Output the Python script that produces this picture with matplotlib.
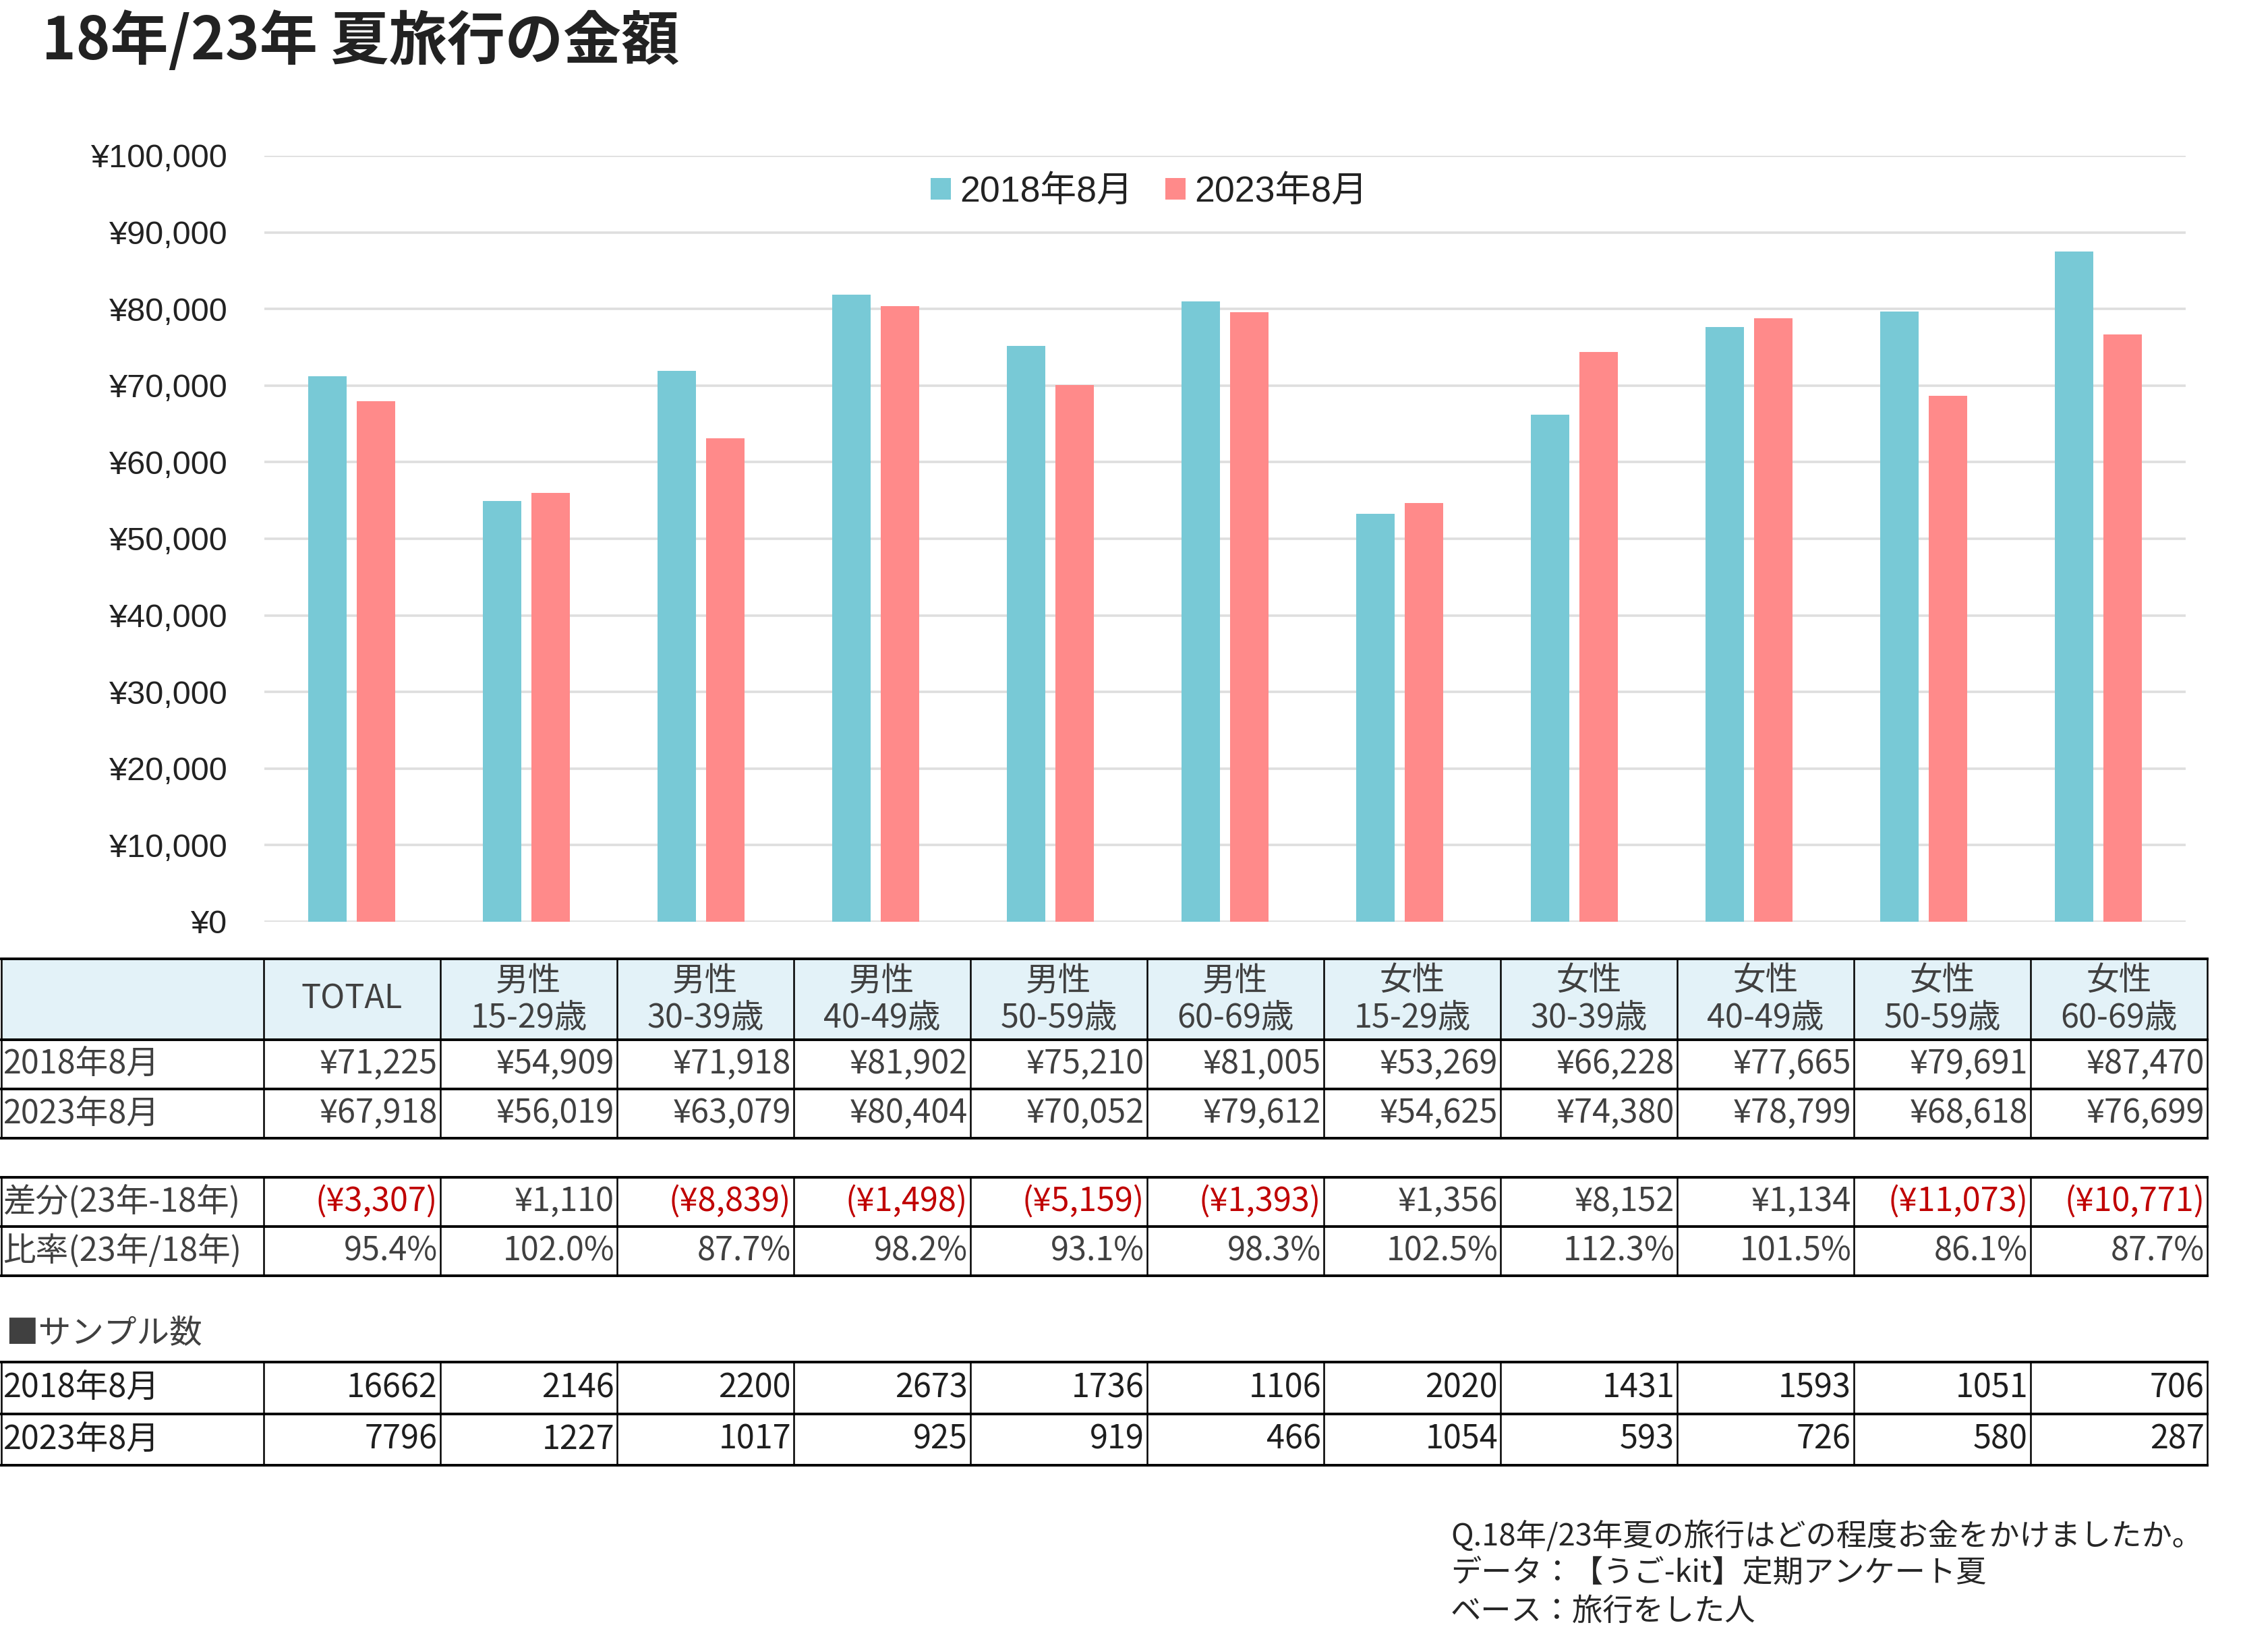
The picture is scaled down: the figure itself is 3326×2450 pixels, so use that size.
import matplotlib
matplotlib.use("Agg")
import matplotlib.pyplot as plt
from matplotlib.patches import Patch, Rectangle
from matplotlib.ticker import FuncFormatter
import numpy as np

plt.rcParams['font.family'] = ['Noto Sans CJK JP', 'DejaVu Sans']

# ---------------- data ----------------
title = "18年/23年 夏旅行の金額"
series_names = ["2018年8月", "2023年8月"]
cat_top = ["TOTAL", "男性", "男性", "男性", "男性", "男性", "女性", "女性", "女性", "女性", "女性"]
cat_bottom = ["", "15-29歳", "30-39歳", "40-49歳", "50-59歳", "60-69歳",
              "15-29歳", "30-39歳", "40-49歳", "50-59歳", "60-69歳"]
val_2018 = [71225, 54909, 71918, 81902, 75210, 81005, 53269, 66228, 77665, 79691, 87470]
val_2023 = [67918, 56019, 63079, 80404, 70052, 79612, 54625, 74380, 78799, 68618, 76699]
diff_vals = [-3307, 1110, -8839, -1498, -5159, -1393, 1356, 8152, 1134, -11073, -10771]
ratio_vals = [95.4, 102.0, 87.7, 98.2, 93.1, 98.3, 102.5, 112.3, 101.5, 86.1, 87.7]
n_2018 = [16662, 2146, 2200, 2673, 1736, 1106, 2020, 1431, 1593, 1051, 706]
n_2023 = [7796, 1227, 1017, 925, 919, 466, 1054, 593, 726, 580, 287]
diff_label = "差分(23年-18年)"
ratio_label = "比率(23年/18年)"
sample_title = "■サンプル数"
footer_lines = ["Q.18年/23年夏の旅行はどの程度お金をかけましたか。",
                "データ：【うご-kit】定期アンケート夏",
                "ベース：旅行をした人"]
y_ticks = [0, 10000, 20000, 30000, 40000, 50000, 60000, 70000, 80000, 90000, 100000]

# ---------------- style ----------------
C18 = "#78C9D6"
C23 = "#FF8A8A"
GRID = "#DEDEDE"
TXT = "#404040"
TXT_DARK = "#1E1E1E"
RED = "#C00000"
HEAD_BG = "#E3F2F8"

W, H = 3326, 2450
fig = plt.figure(figsize=(W / 200, H / 200), dpi=200)

# ---------------- chart ----------------
ax = fig.add_axes([392 / W, (H - 1367) / H, (3241 - 392) / W, (1367 - 231) / H])
x = np.arange(len(val_2018))
bw = 0.22
off = 0.139
ax.bar(x - off, val_2018, width=bw, color=C18, zorder=3, label=series_names[0])
ax.bar(x + off, val_2023, width=bw, color=C23, zorder=3, label=series_names[1])
ax.set_xlim(-0.5, len(x) - 0.5)
ax.set_ylim(0, 100000)
ax.set_yticks(y_ticks)
ax.yaxis.set_major_formatter(FuncFormatter(lambda v, p: "¥{:,.0f}".format(v)))
ax.grid(axis='y', color=GRID, linewidth=1.3, zorder=0)
ax.set_axisbelow(True)
ax.set_xticks([])
for s in ax.spines.values():
    s.set_visible(False)
ax.tick_params(axis='y', length=0, pad=20, labelsize=17.5, labelcolor="#222222")
for lab in ax.get_yticklabels():
    lab.set_fontfamily(['Liberation Sans', 'Noto Sans CJK JP'])

handles = [Patch(facecolor=C18, edgecolor='none'), Patch(facecolor=C23, edgecolor='none')]
fig.legend(handles, series_names, loc='center', bbox_to_anchor=(1704 / W, 1 - 285 / H),
           ncol=2, frameon=False, handlelength=0.55, handleheight=0.55,
           handletextpad=0.25, columnspacing=0.9,
           prop={'family': ['Liberation Sans', 'Noto Sans CJK JP'], 'size': 19.3},
           labelcolor="#222222")

# title
fig.text(62 / W, 1 - 62 / H, title, fontsize=31, fontweight='bold', color="#222222",
         ha='left', va='center')

# ---------------- table (overlay in pixel coords) ----------------
tx = fig.add_axes([0, 0, 1, 1], zorder=5)
tx.set_xlim(0, W)
tx.set_ylim(H, 0)
tx.axis('off')

col_edges = [391 + 262 * i for i in range(len(val_2018) + 1)]
left_x = 2
right_x = col_edges[-1]
FS = 17.5
HLW = 1.4
VLW = 0.9


def grid_block(top, bottoms, fill_header=False):
    ys = [top] + bottoms
    if fill_header:
        tx.add_patch(Rectangle((left_x, top), right_x - left_x, bottoms[0] - top,
                               facecolor=HEAD_BG, edgecolor='none', zorder=1))
    for yy in ys:
        tx.plot([left_x, right_x], [yy, yy], color='black', lw=HLW, zorder=3,
                solid_capstyle='projecting')
    for xx in [left_x] + col_edges:
        tx.plot([xx, xx], [top, ys[-1]], color='black', lw=VLW, zorder=3)


# header + money rows
grid_block(1422, [1542, 1615, 1688], fill_header=True)
for i in range(len(cat_top)):
    cx = (col_edges[i] + col_edges[i + 1]) / 2
    if cat_bottom[i]:
        tx.text(cx, 1455, cat_top[i], ha='center', va='center', fontsize=FS, color=TXT)
        tx.text(cx, 1510, cat_bottom[i], ha='center', va='center', fontsize=FS, color=TXT)
    else:
        tx.text(cx, 1482, cat_top[i], ha='center', va='center', fontsize=FS, color=TXT)

for (yc, label, vals) in [((1542 + 1615) / 2, series_names[0], val_2018),
                          ((1615 + 1688) / 2, series_names[1], val_2023)]:
    tx.text(4, yc, label, ha='left', va='center', fontsize=FS, color=TXT)
    for i, v in enumerate(vals):
        tx.text(col_edges[i + 1] - 4, yc, "¥{:,}".format(v), ha='right', va='center',
                fontsize=FS, color=TXT)

# diff / ratio rows
grid_block(1746, [1819, 1892])
yc = (1746 + 1819) / 2
tx.text(4, yc, diff_label, ha='left', va='center', fontsize=FS, color=TXT)
for i, v in enumerate(diff_vals):
    s = "(¥{:,})".format(-v) if v < 0 else "¥{:,}".format(v)
    tx.text(col_edges[i + 1] - 4, yc, s, ha='right', va='center', fontsize=FS,
            color=RED if v < 0 else TXT)
yc = (1819 + 1892) / 2
tx.text(4, yc, ratio_label, ha='left', va='center', fontsize=FS, color=TXT)
for i, v in enumerate(ratio_vals):
    tx.text(col_edges[i + 1] - 4, yc, "{:.1f}%".format(v), ha='right', va='center',
            fontsize=FS, color=TXT)

# sample counts
tx.text(8, 1977, sample_title, ha='left', va='center', fontsize=FS, color=TXT)
grid_block(2020, [2097, 2173])
for (yc, label, vals) in [((2020 + 2097) / 2, series_names[0], n_2018),
                          ((2097 + 2173) / 2, series_names[1], n_2023)]:
    tx.text(4, yc, label, ha='left', va='center', fontsize=FS, color=TXT_DARK)
    for i, v in enumerate(vals):
        tx.text(col_edges[i + 1] - 4, yc, "{}".format(v), ha='right', va='center',
                fontsize=FS, color=TXT_DARK)

# footer
for k, line in enumerate(footer_lines):
    tx.text(2151, 2278 + 56 * k, line, ha='left', va='center', fontsize=16.3, color="#262626")

fig.savefig("out.png", dpi=200, facecolor='white')
